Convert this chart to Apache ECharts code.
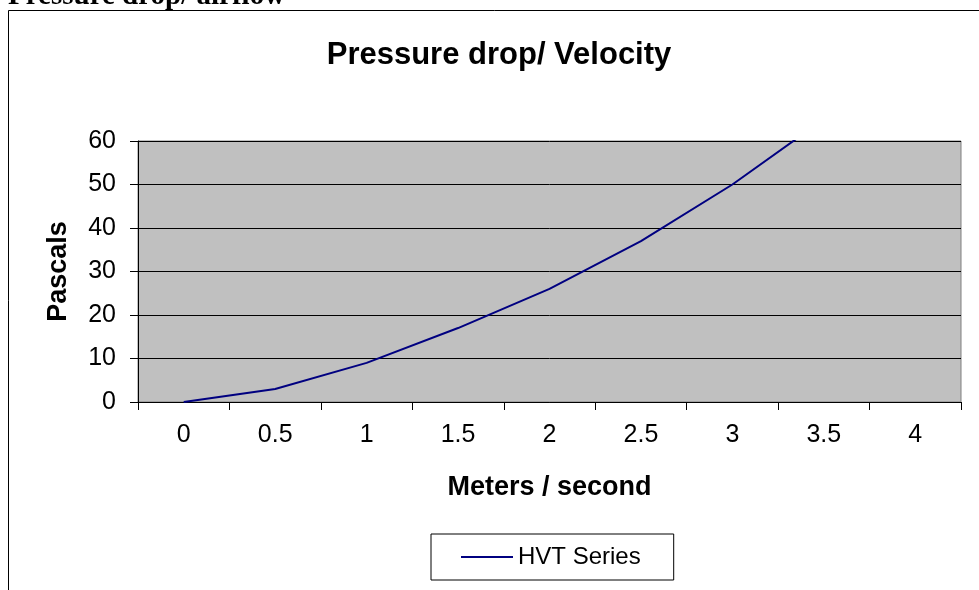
<!DOCTYPE html>
<html>
<head>
<meta charset="utf-8">
<script src="https://cdn.jsdelivr.net/npm/echarts@6/dist/echarts.min.js"></script>
<style>
  html, body { margin: 0; padding: 0; background: #fff; }
  #chart { width: 979px; height: 590px; }
</style>
</head>
<body>
<div id="chart"></div>
<script>
// velocity categories (m/s) and pressure drop (Pa)
var velocity = ['0', '0.5', '1', '1.5', '2', '2.5', '3', '3.5', '4'];
var pressure = [0, 3, 9, 17, 26, 37, 50, 65];
var yTicks = { min: 0, max: 60, interval: 10 };

var font = '"Liberation Sans", Arial, sans-serif';

echarts.init(document.getElementById('chart')).setOption({
    animation: false,
    title: {
        text: 'Pressure drop/ Velocity',
        left: 494,
        textAlign: 'center',
        top: 35,
        textStyle: { fontFamily: font, fontSize: 31, fontWeight: 'bold', color: '#000' }
    },
    graphic: [
        {
            type: 'rect',
            shape: { x: 8.5, y: 10.5, width: 1000, height: 600 },
            style: { fill: 'none', stroke: '#000', lineWidth: 1 }
        },
        {
            type: 'text',
            x: 8, y: 11,
            style: {
                text: 'Pressure drop/ airflow',
                font: 'bold 29px "Liberation Serif", "Times New Roman", serif',
                fill: '#000',
                verticalAlign: 'bottom'
            }
        }
    ],
    legend: {
        data: ['HVT Series'],
        left: 431,
        top: 534,
        orient: 'horizontal',
        borderColor: '#000',
        borderWidth: 1,
        padding: [11, 33, 11, 30],
        icon: 'rect',
        itemWidth: 52,
        itemHeight: 2,
        itemGap: 4,
        textStyle: { fontFamily: font, fontSize: 24, color: '#000', padding: [0, 0, 0, 0] }
    },
    grid: {
        left: 138,
        right: 18,
        top: 141,
        bottom: 188,
        show: true,
        backgroundColor: '#c0c0c0',
        borderColor: '#808080',
        borderWidth: 1
    },
    xAxis: {
        type: 'category',
        data: velocity,
        boundaryGap: true,
        name: 'Meters / second',
        nameLocation: 'middle',
        nameGap: 72,
        nameTextStyle: { fontFamily: font, fontSize: 27, fontWeight: 'bold', color: '#000' },
        axisLine: { lineStyle: { color: '#000', width: 1 } },
        axisTick: { show: true, interval: 0, length: 8, lineStyle: { color: '#000' } },
        axisLabel: { interval: 0, margin: 21, fontFamily: font, fontSize: 25, color: '#000' },
        splitLine: { show: false }
    },
    yAxis: {
        type: 'value',
        min: yTicks.min,
        max: yTicks.max,
        interval: yTicks.interval,
        name: 'Pascals',
        nameLocation: 'middle',
        nameRotate: 90,
        nameGap: 66,
        nameTextStyle: { fontFamily: font, fontSize: 27, fontWeight: 'bold', color: '#000' },
        axisLine: { show: true, lineStyle: { color: '#000', width: 1 } },
        axisTick: { show: true, length: 8, lineStyle: { color: '#000' } },
        axisLabel: { margin: 22, fontFamily: font, fontSize: 25, color: '#000' },
        splitLine: { show: true, lineStyle: { color: '#000', width: 1 } }
    },
    series: [
        {
            name: 'HVT Series',
            type: 'line',
            data: pressure,
            symbol: 'none',
            clip: true,
            lineStyle: { color: '#000080', width: 2 },
            itemStyle: { color: '#000080' }
        }
    ]
});
</script>
</body>
</html>
